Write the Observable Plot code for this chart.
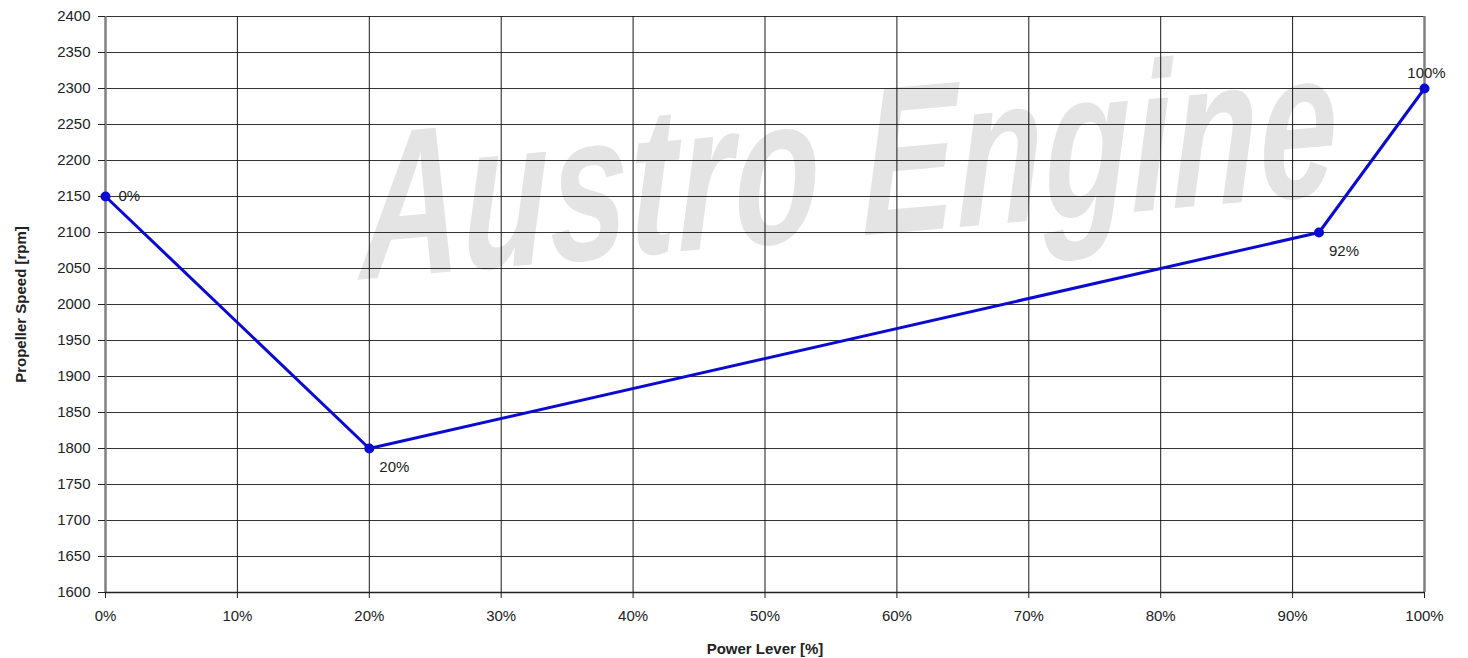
<!DOCTYPE html>
<html>
<head>
<meta charset="utf-8">
<script src="https://cdn.jsdelivr.net/npm/d3@7"></script>
<script src="https://cdn.jsdelivr.net/npm/@observablehq/plot@0.6"></script>
<style>
  html, body { margin: 0; padding: 0; background: #fff; }
  #wrap { position: relative; width: 1468px; height: 658px; overflow: hidden; }
  #wm { position: absolute; left: 360px; top: 175px; width: 1060px; height: 130px; line-height: 130px;
        font-family: "Liberation Sans", Arial, sans-serif;
        font-weight: bold; font-style: italic; font-size: 140px; color: #e4e4e4; white-space: nowrap;
        transform: rotate(-5deg) scale(1.0, 1.5) skewX(-8deg); transform-origin: left bottom; letter-spacing: 2px; }
  #chart { position: absolute; left: 0; top: 0; }
  #chart [aria-label="x-axis label"] text, #chart [aria-label="y-axis label"] text { font-weight: bold; font-size: 15px; }
</style>
</head>
<body>
<div id="wrap">
  <div id="wm">Austro Engine</div>
  <div id="chart"></div>
</div>
<script>
const lever = [0, 20, 92, 100];
const rpm = [2150, 1800, 2100, 2300];
const pointLabels = ["0%", "20%", "92%", "100%"];
const xTicks = [0, 10, 20, 30, 40, 50, 60, 70, 80, 90, 100];
const yTicks = [1600, 1650, 1700, 1750, 1800, 1850, 1900, 1950, 2000, 2050, 2100, 2150, 2200, 2250, 2300, 2350, 2400];
const xTitle = "Power Lever [%]";
const yTitle = "Propeller Speed [rpm]";

const data = lever.map((x, i) => ({x, y: rpm[i], label: pointLabels[i]}));
const blue = "#0a0ad2";

const chart = Plot.plot({
  width: 1468,
  height: 658,
  marginLeft: 105,
  marginRight: 44,
  marginTop: 16,
  marginBottom: 66,
  style: { fontFamily: "'Liberation Sans', Arial, sans-serif", fontSize: "15px", color: "#222", background: "transparent" },
  x: { domain: [0, 100] },
  y: { domain: [1600, 2400] },
  marks: [
    Plot.gridX(xTicks, { stroke: "#000", strokeOpacity: 0.9, strokeWidth: 1 }),
    Plot.gridY(yTicks, { stroke: "#111", strokeOpacity: 0.85, strokeWidth: 1 }),
    Plot.ruleX([0, 100], { stroke: "#808080", strokeWidth: 2.5 }),
    Plot.ruleY([1600], { stroke: "#222", strokeWidth: 1.5 }),
    Plot.axisX(xTicks, { tickFormat: d => d + "%", tickSize: 6, tickPadding: 12, label: xTitle, labelArrow: "none", labelAnchor: "center", labelOffset: 61, fill: "#222" }),
    Plot.axisY(yTicks, { tickFormat: d => String(d), tickSize: 7, tickPadding: 8, label: yTitle, labelArrow: "none", labelAnchor: "center", labelOffset: 90, fill: "#222" }),
    Plot.line(data, { x: "x", y: "y", stroke: blue, strokeWidth: 3 }),
    Plot.dot(data, { x: "x", y: "y", r: 5, fill: blue, stroke: null }),
    Plot.text(data.filter(d => d.x === 0), { x: "x", y: "y", text: "label", textAnchor: "start", dx: 13, dy: 0, fill: "#222" }),
    Plot.text(data.filter(d => d.x > 0 && d.x < 100), { x: "x", y: "y", text: "label", textAnchor: "start", dx: 10, dy: 19, fill: "#222" }),
    Plot.text(data.filter(d => d.x === 100), { x: "x", y: "y", text: "label", textAnchor: "middle", dx: 2, dy: -15, fill: "#222" })
  ]
});
document.getElementById("chart").appendChild(chart);
</script>
</body>
</html>
